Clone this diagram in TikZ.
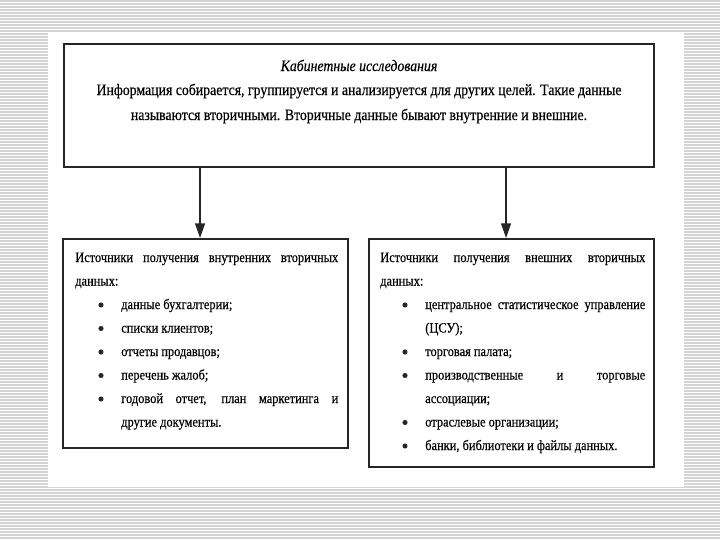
\documentclass[tikz,border=0pt]{standalone}
\usepackage{fontspec}
\setmainfont{Liberation Serif}[FakeStretch=0.87,FakeBold=0.35]
\usetikzlibrary{arrows.meta,fit}
\tikzset{
  stripe/.style={draw={rgb,255:red,212;green,212;blue,212}, line width=0.9pt},
  box/.style={draw=black!85, line width=1.6pt, inner sep=0pt},
  arr/.style={draw=black!85, line width=1.1pt, -{Triangle[width=7.5pt,length=11pt]}},
  ln/.style={anchor=base west, inner sep=0pt, font=\fontsize{10.7pt}{12pt}\selectfont},
  tl/.style={anchor=base, inner sep=0pt, font=\fontsize{11.9pt}{13pt}\selectfont},
  dot/.style={circle, fill=black!85, inner sep=0pt, minimum size=3.8pt},
}
\newcommand{\jline}[2]{\makebox[#1][s]{#2}}
\begin{document}
\begin{tikzpicture}[x=0.75pt,y=-0.75pt]
\useasboundingbox (0,0) rectangle (720,540);
% background stripes
\foreach \yy in {1,4,...,540} \draw[stripe] (0,\yy) -- (720,\yy);
\fill[white] (48,32) rectangle (684,487);
% boxes
\node[box, fit={(64,44) (654,167)}] (top) {};
\node[box, fit={(63,239) (348,448)}] (lt) {};
\node[box, fit={(369,239) (654,467)}] (rt) {};
% arrows
\draw[arr] ([xshift=-4.1pt]lt.north |- top.south) -- ([xshift=-4.1pt]lt.north);
\draw[arr] ([xshift=-4.1pt]rt.north |- top.south) -- ([xshift=-4.1pt]rt.north);
% top text
\node[tl] (t1) at (359,71) {\itshape Кабинетные исследования};
\node[tl] (t2) at (359,95) {Информация собирается, группируется и анализируется для других целей. Такие данные};
\node[tl] (t3) at (359,120) {называются вторичными. Вторичные данные бывают внутренние и внешние.};
% left box
\node[ln] (l1) at (75,262) {\jline{197.25pt}{Источники получения внутренних вторичных}};
\node[ln] (l2) at (75,285.5) {данных:};
\foreach \yy/\nm in {309/b1,332.5/b2,356/b3,379.5/b4,403/b5}
  \node[dot] (l\nm) at (101,\yy-4) {};
\node[ln] (l3) at (121,309) {данные бухгалтерии;};
\node[ln] (l4) at (121,332.5) {списки клиентов;};
\node[ln] (l5) at (121,356) {отчеты продавцов;};
\node[ln] (l6) at (121,379.5) {перечень жалоб;};
\node[ln] (l7) at (121,403) {\jline{162.75pt}{годовой отчет, план маркетинга и}};
\node[ln] (l8) at (121,426.5) {другие документы.};
% right box
\node[ln] (r1) at (380,262) {\jline{198.75pt}{Источники получения внешних вторичных}};
\node[ln] (r2) at (380,285.5) {данных:};
\foreach \yy/\nm in {309/b1,356/b2,379.5/b3,426.5/b4,450/b5}
  \node[dot] (r\nm) at (405,\yy-4) {};
\node[ln] (r3) at (425,309) {\jline{165pt}{центральное статистическое управление}};
\node[ln] (r4) at (425,332.5) {(ЦСУ);};
\node[ln] (r5) at (425,356) {торговая палата;};
\node[ln] (r6) at (425,379.5) {\jline{165pt}{производственные и торговые}};
\node[ln] (r7) at (425,403) {ассоциации;};
\node[ln] (r8) at (425,426.5) {отраслевые организации;};
\node[ln] (r9) at (425,450) {банки, библиотеки и файлы данных.};
\end{tikzpicture}
\end{document}
